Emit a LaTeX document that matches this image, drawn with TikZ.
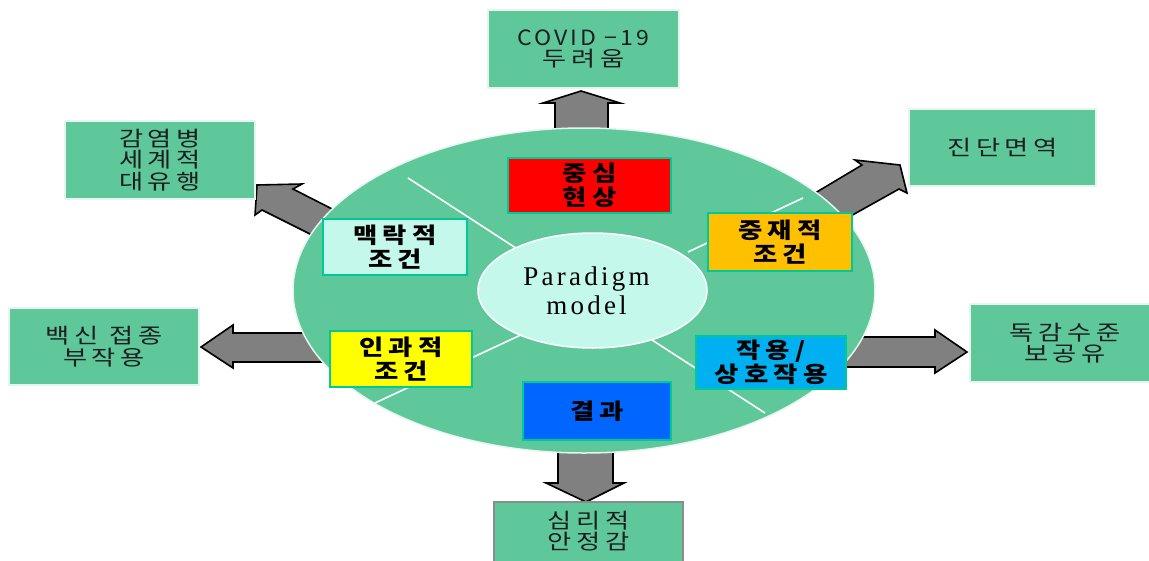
\documentclass[tikz,border=0pt]{standalone}
\usepackage{fontspec}
\usetikzlibrary{shapes.geometric}
\newfontfamily\kout[FakeStretch=1.25,LetterSpace=22]{Noto Sans CJK KR}
\newfontfamily\koutlat[FakeStretch=1.1,LetterSpace=14]{Noto Sans CJK KR}
\newfontfamily\kin[FakeStretch=1.2,LetterSpace=24]{Noto Sans CJK KR}
\newfontfamily\para[LetterSpace=12]{Liberation Serif}
\definecolor{mgreen}{HTML}{5EC89B}
\definecolor{oedge}{HTML}{E6F6EE}
\definecolor{iedge}{HTML}{00C896}
\definecolor{mint}{HTML}{C4F8EA}
\definecolor{agrey}{HTML}{808080}
\definecolor{txt}{HTML}{1E1E1E}
\definecolor{bred}{HTML}{FF0000}
\definecolor{byellow}{HTML}{FFFF00}
\definecolor{borange}{HTML}{FFC000}
\definecolor{bblue}{HTML}{0066FF}
\definecolor{bcyan}{HTML}{00B0F0}
\definecolor{sgrey}{HTML}{8C8C8C}
\begin{document}
\begin{tikzpicture}[x=1pt,y=-1pt,
  obox/.style={draw=oedge,line width=1.5pt,fill=mgreen,text=txt,align=center,inner sep=0pt,
    font=\kout\fontsize{21}{21.5}\selectfont},
  ibox/.style={draw=iedge,line width=1.8pt,align=center,inner sep=0pt,text=black,
    font=\kin\bfseries\fontsize{22}{24}\selectfont},
  barrow/.style={fill=agrey,draw=black,line width=1.6pt,line join=miter},
  sepline/.style={draw=white,line width=1.6pt}]
\useasboundingbox (0,0) rectangle (1149,560);

% block arrows (behind the big ellipse)
\draw[barrow] (555,140) -- (555,103) -- (543,103) -- (581,91) -- (620,103) -- (608,103) -- (608,140) -- cycle;
\draw[barrow] (558,440) -- (558,483) -- (546,483) -- (586,502) -- (624,483) -- (613,483) -- (613,440) -- cycle;
\draw[barrow] (840,337) -- (935,337) -- (935,330) -- (967,352) -- (935,373) -- (935,367) -- (840,367) -- cycle;
\draw[barrow] (330,333) -- (233,333) -- (233,325) -- (201,347) -- (233,368) -- (233,362) -- (330,362) -- cycle;
\draw[barrow] (340,213) -- (293,189) -- (302,184) -- (257,185) -- (255,215) -- (262,210) -- (330,244) -- cycle;
\draw[barrow] (800,202) -- (862,165) -- (855,160) -- (900,165) -- (907,193) -- (899,189) -- (840,222) -- cycle;

% big ellipse
\node[ellipse,draw=oedge,line width=1.5pt,fill=mgreen,minimum width=582pt,minimum height=325pt,inner sep=0pt] (big) at (584,290.5) {};

% separator lines
\draw[sepline] (408,178) -- (522,252);
\draw[sepline] (803,198) -- (688,252);
\draw[sepline] (375,403) -- (525,333);
\draw[sepline] (652,340) -- (765,413);

% inner ellipse
\node[ellipse,draw=white,line width=1.5pt,fill=mint,minimum width=229pt,minimum height=115pt,inner sep=0pt,
  align=center,font=\para\fontsize{27}{29}\selectfont] (par) at (592.5,290.5) {Paradigm\hspace*{12pt}\\model\hspace*{12pt}};

% inner boxes
\node[ibox,fill=bred,minimum width=163pt,minimum height=55pt] (jungsim) at (589.5,185.5) {중심\\현상};
\node[ibox,fill=mint,minimum width=144pt,minimum height=56pt] (maek) at (395,247) {맥락적\\조건};
\node[ibox,fill=byellow,minimum width=142pt,minimum height=56pt] (ingwa) at (401,359) {인과적\\조건};
\node[ibox,fill=bblue,minimum width=148pt,minimum height=58pt] (gyeol) at (597,411) {결과};
\node[ibox,fill=borange,minimum width=144pt,minimum height=58pt] (jungjae) at (780,242) {중재적\\조건};
\node[ibox,fill=bcyan,minimum width=150pt,minimum height=53pt] (jak) at (771,362.5) {작용/\\상호작용};

% outer boxes
\node[obox,minimum width=191pt,minimum height=78pt] (covid) at (583.5,49) {{\koutlat COVID −19}\\두려움};
\node[obox,minimum width=187pt,minimum height=77pt] (jindan) at (1002.5,147.5) {진단면역};
\node[obox,minimum width=190pt,minimum height=78pt] (dok) at (1065,343) {독감수준\\보공유};
\node[obox,minimum width=190pt,minimum height=78pt] (gam) at (160,160) {감염병\\세계적\\대유행};
\node[obox,minimum width=190pt,minimum height=77pt] (baek) at (104,346.5) {백신 접종\\부작용};
\node[obox,draw=sgrey,minimum width=189pt,minimum height=78pt] (simbox) at (588.5,541) {};
\node[align=center,inner sep=0pt,text=txt,font=\kout\fontsize{21}{21.5}\selectfont] (simri) at (588.5,531) {심리적\\안정감};
\end{tikzpicture}
\end{document}
